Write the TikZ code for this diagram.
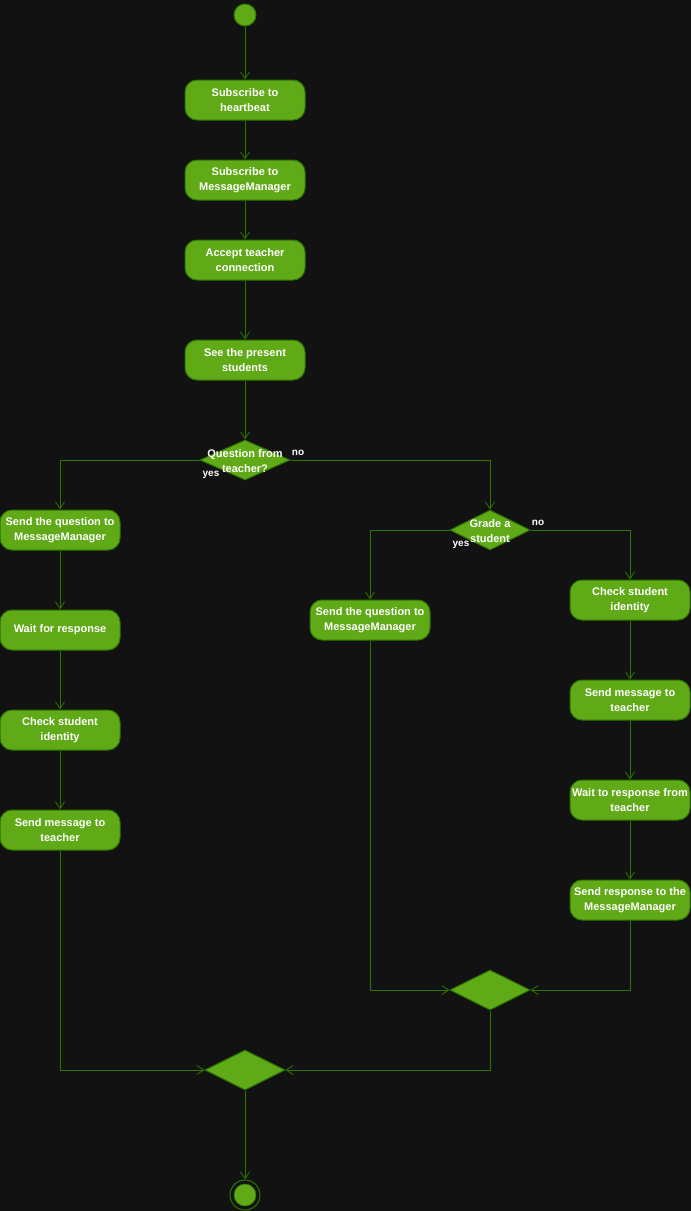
\documentclass[tikz,border=0pt]{standalone}
\usepackage{fontspec}
\setmainfont{Liberation Sans}
\usetikzlibrary{arrows.meta,shapes.geometric}
\definecolor{bg}{HTML}{121212}
\definecolor{gfill}{HTML}{60A917}
\definecolor{gline}{HTML}{2D7600}
\begin{document}
\begin{tikzpicture}[x=1pt,y=-1pt,
  act/.style={draw=gline,fill=gfill,line width=1pt,rounded corners=12pt,minimum width=120pt,minimum height=40pt,inner sep=0pt,align=center,text=white,font=\bfseries\fontsize{11}{14.5}\selectfont},
  dec/.style={draw=gline,fill=gfill,line width=1pt,diamond,inner sep=0pt,minimum width=#1,minimum height=40pt},
  dectext/.style={align=center,text=white,font=\bfseries\fontsize{11}{14.5}\selectfont,inner sep=0pt},
  lbl/.style={text=white,font=\bfseries\fontsize{10}{12}\selectfont,inner sep=0pt},
  flow/.style={draw=gline,line width=0.8pt,-{Straight Barb[length=7pt,width=9pt]}}
]
\useasboundingbox[fill=bg] (0,0) rectangle (691,1211);
% start
\node[circle,draw=gline,fill=gfill,line width=1pt,minimum size=22pt,inner sep=0pt] (start) at (245,15) {};
% main column
\node[act] (a1) at (245,100) {Subscribe to\\heartbeat};
\node[act] (a2) at (245,180) {Subscribe to\\MessageManager};
\node[act] (a3) at (245,260) {Accept teacher\\connection};
\node[act] (a4) at (245,360) {See the present\\students};
\node[dec=90pt] (d1) at (245,460) {};
\node[dectext] (d1t) at (245,461) {Question from\\teacher?};
% left branch
\node[act] (l1) at (60,530) {Send the question to\\MessageManager};
\node[act] (l2) at (60,630) {Wait for response};
\node[act] (l3) at (60,730) {Check student\\identity};
\node[act] (l4) at (60,830) {Send message to\\teacher};
% right branch
\node[dec=80pt] (d2) at (490,530) {};
\node[dectext] (d2t) at (490,531) {Grade a\\student};
\node[act] (m1) at (370,620) {Send the question to\\MessageManager};
\node[act] (r1) at (630,600) {Check student\\identity};
\node[act] (r2) at (630,700) {Send message to\\teacher};
\node[act] (r3) at (630,800) {Wait to response from\\teacher};
\node[act] (r4) at (630,900) {Send response to the\\MessageManager};
% merges
\node[dec=80pt] (mg2) at (490,990) {};
\node[dec=80pt] (mg1) at (245,1070) {};
% end
\node[circle,draw=gline,line width=1pt,minimum size=30pt,inner sep=0pt] (endo) at (245,1195) {};
\node[circle,fill=gfill,draw=gline,line width=0.6pt,minimum size=22pt,inner sep=0pt] (endi) at (245,1195) {};
% labels
\node[lbl] (no1) at (298,453) {no};
\node[lbl] (yes1) at (211,475) {yes};
\node[lbl] (no2) at (538,523) {no};
\node[lbl] (yes2) at (461,545) {yes};
% connectors
\draw[flow] (start) -- (a1);
\draw[flow] (a1) -- (a2);
\draw[flow] (a2) -- (a3);
\draw[flow] (a3) -- (a4);
\draw[flow] (a4) -- (d1);
\draw[flow] (d1.west) -| (l1.north);
\draw[flow] (d1.east) -| (d2.north);
\draw[flow] (l1) -- (l2);
\draw[flow] (l2) -- (l3);
\draw[flow] (l3) -- (l4);
\draw[flow] (d2.west) -| (m1.north);
\draw[flow] (d2.east) -| (r1.north);
\draw[flow] (r1) -- (r2);
\draw[flow] (r2) -- (r3);
\draw[flow] (r3) -- (r4);
\draw[flow] (m1.south) |- (mg2.west);
\draw[flow] (r4.south) |- (mg2.east);
\draw[flow] (l4.south) |- (mg1.west);
\draw[flow] (mg2.south) |- (mg1.east);
\draw[flow] (mg1.south) -- (endo.north);
\end{tikzpicture}
\end{document}
